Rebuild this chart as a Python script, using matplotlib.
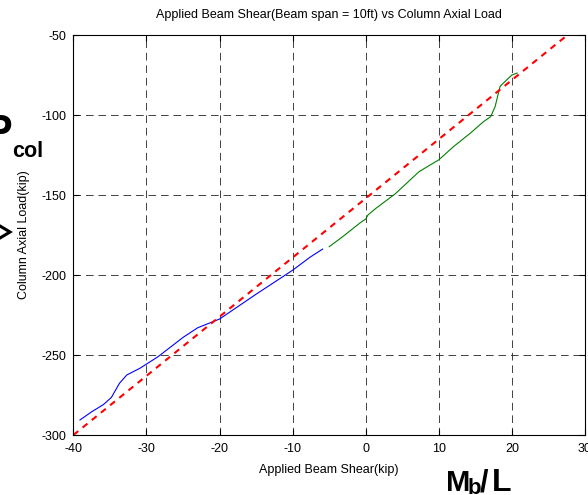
import matplotlib
matplotlib.use("Agg")
import matplotlib.pyplot as plt
from matplotlib.lines import Line2D
import numpy as np

plt.rcParams['font.family'] = ['Liberation Sans', 'DejaVu Sans']
plt.rcParams['lines.scale_dashes'] = False
plt.rcParams['axes.unicode_minus'] = False

# Data
blue_x = [-39.1, -37.5, -35.9, -34.8, -33.7, -32.7, -30.9, -28.4, -25.0, -23.0, -20.0, -15.0, -10.0, -7.6, -5.9]
blue_y = [-290.6, -285.5, -281.0, -276.5, -267.7, -262.5, -258.3, -251.0, -239.0, -233.0, -227.5, -212.0, -197.0, -188.8, -183.8]

green_x = [-5.0, -3.0, -0.8, 0.0, 0.3, 1.4, 4.0, 7.3, 10.0, 12.0, 14.3, 16.1, 17.1, 17.7, 18.2, 18.4, 19.3, 20.0, 20.7]
green_y = [-182.3, -175.5, -167.5, -165.0, -162.5, -158.3, -149.4, -135.4, -128.0, -119.8, -111.4, -104.2, -101.0, -94.8, -85.4, -82.0, -78.0, -75.0, -73.8]

fit_x = [-40.0, 27.2]
fit_y = [-300.0, -51.5]

x_ticks = [-40, -30, -20, -10, 0, 10, 20, 30]
y_ticks = [-300, -250, -200, -150, -100, -50]

title = 'Applied Beam Shear(Beam span = 10ft) vs Column Axial Load'
xlabel = 'Applied Beam Shear(kip)'
ylabel = 'Column Axial Load(kip)'

W, H = 588, 495
fig = plt.figure(figsize=(W/100, H/100), dpi=100)
ax = fig.add_axes([73.4/W, 1-435/H, (585-73.4)/W, 400/H])

ax.plot(blue_x, blue_y, color='#0000ff', lw=0.8)
ax.plot(green_x, green_y, color='#008000', lw=0.8)
ax.plot(fit_x, fit_y, color='#ff0000', lw=1.5, linestyle=(0, (4.5, 4.0)))

ax.set_xlim(-40, 30)
ax.set_ylim(-300, -50)
ax.set_xticks(x_ticks)
ax.set_yticks(y_ticks)
ax.grid(True, color='#222222', lw=0.6, linestyle=(0, (5.5, 3.5)))
ax.tick_params(direction='in', length=4, width=0.8, top=True, right=True, labelsize=9)
ax.tick_params(axis='x', pad=6)
ax.tick_params(axis='y', pad=5)
for s in ax.spines.values():
    s.set_linewidth(0.8)

ax.set_title(title, fontsize=9, pad=12)
ax.set_xlabel(xlabel, fontsize=9, labelpad=6)
ax.set_ylabel(ylabel, fontsize=9, labelpad=8)

# overlaid annotation text (partially cropped in the reference)
fig.text(-16/W, 1-144/H, 'P', fontsize=30, fontweight='bold', ha='left', va='baseline')
fig.text(12/W, 1-157/H, 'col', fontsize=15.5, fontweight='bold', ha='left', va='baseline')
fig.add_artist(Line2D([0/W, 10/W, 0/W], [1-226/H, 1-232/H, 1-238/H],
                      transform=fig.transFigure, color='black', lw=2.2,
                      solid_joinstyle='miter'))
fig.text(446/W, 1-491/H, 'M', fontsize=21, fontweight='bold', ha='left', va='baseline')
fig.text(468/W, 1-494/H, 'b', fontsize=16, fontweight='bold', ha='left', va='baseline')
fig.text(480/W, 1-491/H, '/', fontsize=22, fontweight='bold', ha='left', va='baseline')
fig.text(492/W, 1-491/H, 'L', fontsize=23, fontweight='bold', ha='left', va='baseline')

fig.savefig('out.png', dpi=100)
